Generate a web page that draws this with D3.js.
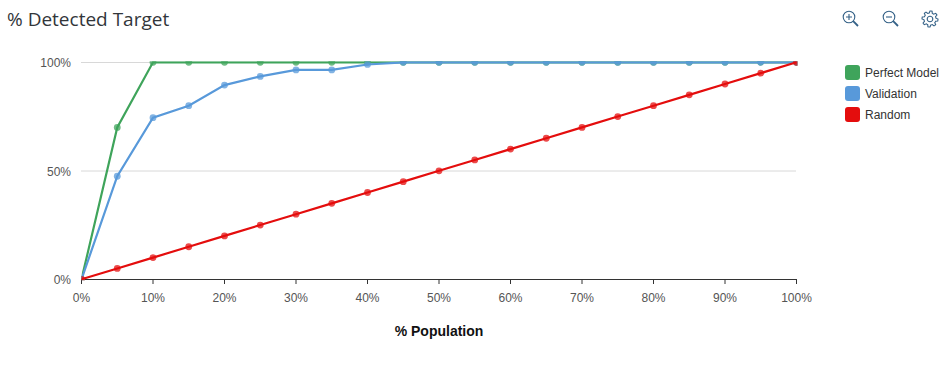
<!DOCTYPE html>
<html>
<head>
<meta charset="utf-8">
<script src="https://cdn.jsdelivr.net/npm/d3@7"></script>
<style>
  html, body { margin: 0; padding: 0; background: #fff; overflow: hidden; }
  text { font-family: "Liberation Sans", Arial, sans-serif; }
</style>
</head>
<body>
<svg id="chart" width="952" height="365"></svg>
<script>
// % population, one point every 5%
const population = [0, 5, 10, 15, 20, 25, 30, 35, 40, 45, 50, 55, 60, 65, 70, 75, 80, 85, 90, 95, 100]
const perfectModel = [0, 70, 100, 100, 100, 100, 100, 100, 100, 100, 100, 100, 100, 100, 100, 100, 100, 100, 100, 100, 100]
const validation = [0, 47.5, 74.5, 80, 89.5, 93.5, 96.5, 96.5, 99, 100, 100, 100, 100, 100, 100, 100, 100, 100, 100, 100, 100]
const random = [0, 5, 10, 15, 20, 25, 30, 35, 40, 45, 50, 55, 60, 65, 70, 75, 80, 85, 90, 95, 100]

const xTicks = [0, 10, 20, 30, 40, 50, 60, 70, 80, 90, 100]
const yTicks = [0, 50, 100]

const seriesNames = ['Perfect Model', 'Validation', 'Random']
const seriesValues = [perfectModel, validation, random]
const seriesColors = ['#3fa45b', '#5899da', '#e40d0d']

const margin = { top: 62, right: 156, bottom: 86, left: 81 }
const width = 952 - margin.left - margin.right
const height = 365 - margin.top - margin.bottom

const svg = d3.select('#chart')

svg.append('text')
  .attr('x', 7)
  .attr('y', 26)
  .attr('fill', '#32363a')
  .style('font-family', '"Open Sans", sans-serif')
  .style('font-size', '19px')
  .text('% Detected Target')

const g = svg.append('g')
  .attr('transform', `translate(${margin.left},${margin.top})`)

const x = d3.scaleLinear().domain([0, 100]).range([0, width])
const y = d3.scaleLinear().domain([0, 100]).range([height, 0])

// grid lines
g.selectAll('.grid')
  .data(yTicks.filter(d => d > 0))
  .join('line')
  .attr('class', 'grid')
  .attr('x1', 0)
  .attr('x2', width)
  .attr('y1', d => y(d) + 0.5)
  .attr('y2', d => y(d) + 0.5)
  .attr('stroke', '#d8d8d8')

// y labels, no axis line
g.selectAll('.y-label')
  .data(yTicks)
  .join('text')
  .attr('class', 'y-label')
  .attr('x', -10)
  .attr('y', d => y(d) + 5)
  .attr('text-anchor', 'end')
  .attr('fill', '#555')
  .style('font-size', '12px')
  .text(d => d + '%')

const xAxis = g.append('g')
  .attr('transform', `translate(0,${height})`)
  .call(d3.axisBottom(x).tickValues(xTicks).tickFormat(d => d + '%').tickSize(5).tickPadding(9))

xAxis.select('.domain').attr('stroke', '#333').attr('d', `M0.5,0.5H${width + 0.5}`)
xAxis.selectAll('.tick line').attr('stroke', '#333')
xAxis.selectAll('text')
  .attr('fill', '#555')
  .style('font-family', '"Liberation Sans", Arial, sans-serif')
  .style('font-size', '12px')

svg.append('text')
  .attr('x', 439)
  .attr('y', 336)
  .attr('text-anchor', 'middle')
  .attr('fill', '#111')
  .style('font-size', '14px')
  .style('font-weight', 'bold')
  .text('% Population')

// markers get cut off at the top of the plot
svg.append('clipPath')
  .attr('id', 'plot-clip')
  .append('rect')
  .attr('x', 0)
  .attr('y', -1)
  .attr('width', width + 1)
  .attr('height', height + 2)

const plot = g.append('g')
  .attr('transform', 'translate(0.5,0.3)')
  .attr('clip-path', 'url(#plot-clip)')

const line = d3.line()
  .x((d, i) => x(population[i]))
  .y(d => y(d))

seriesValues.forEach((values, s) => {
  plot.append('path')
    .attr('d', line(values))
    .attr('fill', 'none')
    .attr('stroke', seriesColors[s])
    .attr('stroke-width', 2.2)

  plot.selectAll(`.dot-${s}`)
    .data(values)
    .join('circle')
    .attr('class', `dot-${s}`)
    .attr('cx', (d, i) => x(population[i]))
    .attr('cy', d => y(d))
    .attr('r', 3.4)
    .attr('fill', seriesColors[s])
    .attr('fill-opacity', 0.75)
})

// legend
const legend = svg.selectAll('.legend-item')
  .data(seriesNames)
  .join('g')
  .attr('class', 'legend-item')
  .attr('transform', (d, i) => `translate(845,${65 + i * 21})`)

legend.append('rect')
  .attr('width', 15)
  .attr('height', 15)
  .attr('rx', 3)
  .attr('fill', (d, i) => seriesColors[i])

legend.append('text')
  .attr('x', 20)
  .attr('y', 12)
  .attr('fill', '#333')
  .style('font-size', '12px')
  .text(d => d)

// toolbar icons
const iconColor = '#346187'
const toolbar = svg.append('g')
  .attr('fill', 'none')
  .attr('stroke', iconColor)
  .attr('stroke-width', 1.1)

function magnifier (cx, plus) {
  const icon = toolbar.append('g').attr('transform', `translate(${cx},17)`)
  icon.append('circle').attr('r', 5.8)
  icon.append('path').attr('d', 'M4.2,4.2L9,9').attr('stroke-width', 1.8)
  icon.append('path').attr('d', plus ? 'M-3,0H3M0,-3V3' : 'M-3,0H3')
}
magnifier(849, true)
magnifier(889, false)

// gear, outline built from 8 teeth
const gear = toolbar.append('g').attr('transform', 'translate(930,19)')
const gearRadii = d3.range(48).map(i => (i % 6 < 3 ? 8 : 6))
gear.append('path')
  .attr('d', d3.lineRadial().curve(d3.curveLinearClosed)
    .angle((d, i) => i / 48 * 2 * Math.PI)
    .radius(d => d)(gearRadii))
gear.append('circle').attr('r', 2.8)
</script>
</body>
</html>
